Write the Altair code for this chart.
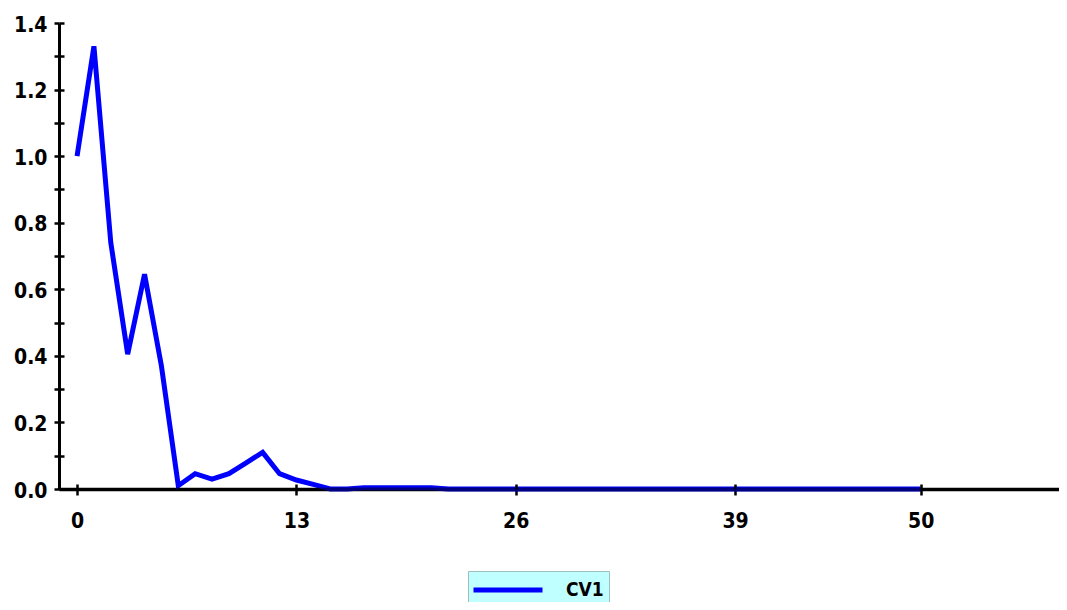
import altair as alt
import pandas as pd

# data
x_vals = list(range(51))
y_vals = [1.00, 1.33, 0.74, 0.405, 0.645, 0.37, 0.01, 0.046, 0.03, 0.046,
          0.078, 0.11, 0.046, 0.027, 0.014, 0.0, 0.0, 0.004, 0.004, 0.004,
          0.004, 0.004] + [0.0] * 29
series_name = ["CV1"]
x_ticks = [0, 13, 26, 39, 50]
y_ticks = [round(i * 0.1, 1) for i in range(15)]

df = pd.DataFrame({"x": x_vals, "y": y_vals, "series": series_name * len(x_vals)})

W, H = 1000, 466
FONT = "DejaVu Sans Condensed"

xscale = alt.Scale(domain=[-1.07, 58.2], nice=False, zero=False)
yscale = alt.Scale(domain=[0, 1.4], nice=False, zero=False)

main_x_axis = alt.Axis(values=x_ticks, title=None, grid=False, domainColor="black",
                       domainWidth=3, tickColor="black", tickWidth=2.5, tickSize=6,
                       labelFont=FONT, labelFontSize=21, labelFontWeight="bold",
                       labelColor="black", labelPadding=15, labelFlush=False)
main_y_axis = alt.Axis(values=y_ticks, title=None, grid=False, domainColor="black",
                       domainWidth=3, tickColor="black", tickWidth=2.5, tickSize=5,
                       labelFont=FONT, labelFontSize=21, labelFontWeight="bold",
                       labelColor="black", labelPadding=7, labelFlush=False,
                       labelOffset=2,
                       labelExpr="round(datum.value*10) % 2 === 0 ? format(datum.value, '.1f') : ''")

# helper axes: ticks pointing inward (so ticks cross the axis lines);
# the x helper also darkens the line where it lies on the axis
helper_x_axis = alt.Axis(values=x_ticks, orient="top", offset=-H, title=None, grid=False,
                         domain=True, domainColor="black", domainOpacity=0.5,
                         domainWidth=4, labels=False, tickColor="black", tickWidth=2.5,
                         tickSize=5, zindex=1)
helper_y_axis = alt.Axis(values=y_ticks, orient="right", offset=-W, title=None, grid=False,
                         domain=False, labels=False, tickColor="black", tickWidth=2.5,
                         tickSize=5)

base = alt.Chart(df)

helper = base.mark_line(opacity=0).encode(
    x=alt.X("x:Q", scale=xscale, axis=helper_x_axis),
    y=alt.Y("y:Q", scale=yscale, axis=helper_y_axis),
)

line = base.mark_line(strokeWidth=5).encode(
    x=alt.X("x:Q", scale=xscale, axis=main_x_axis),
    y=alt.Y("y:Q", scale=yscale, axis=main_y_axis),
    color=alt.Color("series:N", scale=alt.Scale(range=["#0000FF"]),
                    legend=alt.Legend(title=None, orient="none", legendX=409, legendY=548,
                                      fillColor="#C0FFFF", strokeColor="#9fbfbf",
                                      padding=5, symbolType="M-3,0H3", symbolSize=529,
                                      symbolOffset=21, symbolStrokeWidth=5,
                                      labelFont=FONT, labelFontSize=19,
                                      labelFontWeight="bold", labelColor="black",
                                      labelOffset=44)),
)

chart = alt.layer(helper, line).resolve_axis(x="independent", y="independent").properties(
    width=W, height=H,
    autosize=alt.AutoSizeParams(type="none"),
    padding={"left": 51, "top": 15, "right": 0, "bottom": 113},
).configure(background="white").configure_view(stroke=None)

chart.save("out.html", embed_options={"renderer": "svg", "actions": False})
